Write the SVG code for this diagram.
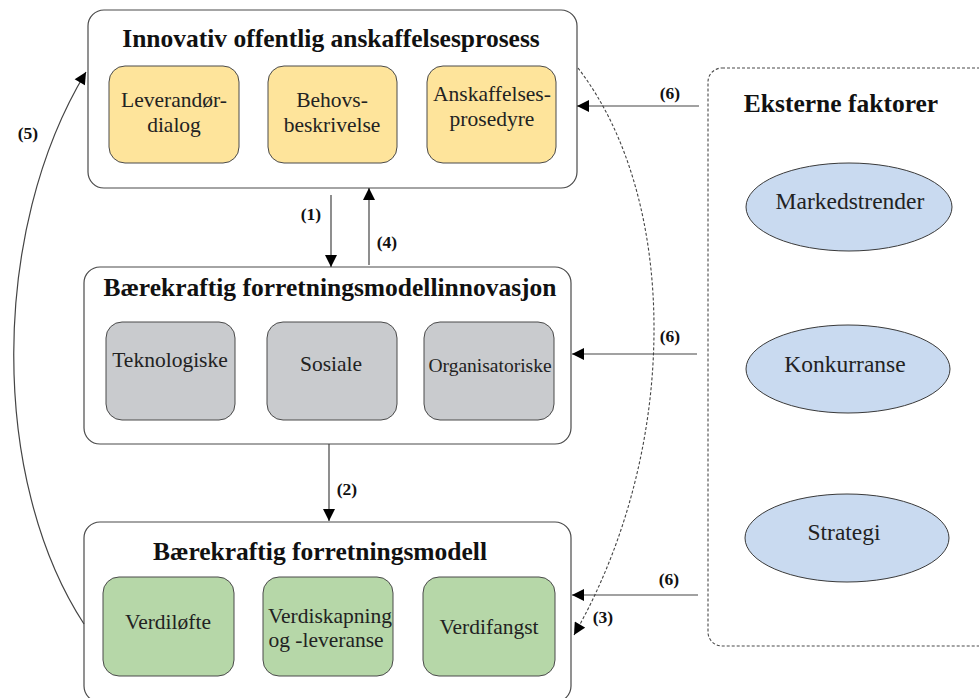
<svg xmlns="http://www.w3.org/2000/svg" width="979" height="698" viewBox="0 0 979 698">
  <style>
    .frame { fill: #ffffff; stroke: #4a4a4a; stroke-width: 1.2; }
    .ext { fill: none; stroke: #4a4a4a; stroke-width: 1.1; stroke-dasharray: 3 2; }
    .yellow { fill: #fee49b; stroke: #4a4a4a; stroke-width: 1; }
    .grey { fill: #c9cbce; stroke: #4a4a4a; stroke-width: 1; }
    .green { fill: #b6d7a8; stroke: #4a4a4a; stroke-width: 1; }
    .oval { fill: #c9daf0; stroke: #3a3a3a; stroke-width: 1; }
    .title { font-family: "Liberation Serif", "Times New Roman", serif; font-weight: bold; font-size: 25.5px; fill: #111111; text-anchor: middle; }
    .lbl { font-family: "Liberation Serif", "Times New Roman", serif; font-size: 21.5px; fill: #222222; text-anchor: middle; }
    .big { font-size: 23.5px; }
    .num { font-family: "Liberation Serif", "Times New Roman", serif; font-weight: bold; font-size: 17.5px; fill: #111111; text-anchor: middle; }
    .link { fill: none; stroke: #444444; stroke-width: 1.2; }
    .dash { fill: none; stroke: #444444; stroke-width: 1.1; stroke-dasharray: 3 2; }
  </style>
  <defs>
    <marker id="head" viewBox="0 0 10 10" refX="10" refY="5" markerWidth="13" markerHeight="12" markerUnits="userSpaceOnUse" orient="auto">
      <path d="M0,0 L10,5 L0,10 z" fill="#000000"/>
    </marker>
  </defs>

  <rect width="979" height="698" fill="#ffffff"/>

  <!-- Innovative public procurement process -->
  <g id="procurement">
    <rect class="frame" x="88" y="10" width="489" height="178" rx="16"/>
    <text class="title" x="331" y="47">Innovativ offentlig anskaffelsesprosess</text>
    <rect class="yellow" x="109" y="66" width="130" height="97" rx="16"/>
    <text class="lbl" x="174" y="107">Leverandør-</text>
    <text class="lbl" x="174" y="132">dialog</text>
    <rect class="yellow" x="268" y="66" width="129" height="97" rx="16"/>
    <text class="lbl" x="332" y="107">Behovs-</text>
    <text class="lbl" x="332" y="132">beskrivelse</text>
    <rect class="yellow" x="427" y="66" width="129" height="97" rx="16"/>
    <text class="lbl" x="492" y="101">Anskaffelses-</text>
    <text class="lbl" x="492" y="126">prosedyre</text>
  </g>

  <!-- Sustainable business model innovation -->
  <g id="innovation">
    <rect class="frame" x="84" y="267" width="487" height="177" rx="16"/>
    <text class="title" x="330" y="296">Bærekraftig forretningsmodellinnovasjon</text>
    <rect class="grey" x="106" y="322" width="129" height="98" rx="16"/>
    <text class="lbl" x="170" y="367">Teknologiske</text>
    <rect class="grey" x="267" y="322" width="130" height="98" rx="16"/>
    <text class="lbl" x="331" y="371">Sosiale</text>
    <rect class="grey" x="424" y="322" width="130" height="98" rx="16"/>
    <text class="lbl" x="490" y="372" style="font-size:19.5px">Organisatoriske</text>
  </g>

  <!-- Sustainable business model -->
  <g id="businessmodel">
    <rect class="frame" x="84" y="522" width="487" height="180" rx="16"/>
    <text class="title" x="320" y="560">Bærekraftig forretningsmodell</text>
    <rect class="green" x="103" y="577" width="131" height="99" rx="16"/>
    <text class="lbl" x="168" y="629">Verdiløfte</text>
    <rect class="green" x="263" y="577" width="130" height="99" rx="16"/>
    <text class="lbl" x="330" y="623">Verdiskapning</text>
    <text class="lbl" x="326" y="647">og -leveranse</text>
    <rect class="green" x="423" y="577" width="132" height="99" rx="16"/>
    <text class="lbl" x="489" y="634">Verdifangst</text>
  </g>

  <!-- External factors -->
  <g id="external">
    <rect class="ext" x="708" y="68" width="290" height="578" rx="14"/>
    <text class="title" x="841" y="112">Eksterne faktorer</text>
    <g id="markedstrender">
      <ellipse class="oval" cx="849" cy="207" rx="103" ry="44"/>
      <text class="lbl big" x="850" y="209">Markedstrender</text>
    </g>
    <g id="konkurranse">
      <ellipse class="oval" cx="848" cy="369" rx="102" ry="44"/>
      <text class="lbl big" x="845" y="372">Konkurranse</text>
    </g>
    <g id="strategi">
      <ellipse class="oval" cx="847" cy="538" rx="102" ry="44"/>
      <text class="lbl big" x="844" y="540">Strategi</text>
    </g>
  </g>

  <!-- Connectors -->
  <g id="connectors">
    <line class="link" x1="331" y1="195" x2="331" y2="267" marker-end="url(#head)"/>
    <text class="num" x="311" y="220">(1)</text>
    <line class="link" x1="369" y1="265" x2="369" y2="188" marker-end="url(#head)"/>
    <text class="num" x="387" y="248">(4)</text>
    <line class="link" x1="329" y1="444" x2="329" y2="521" marker-end="url(#head)"/>
    <text class="num" x="347" y="495">(2)</text>

    <line class="link" x1="699" y1="106" x2="577" y2="106" marker-end="url(#head)"/>
    <text class="num" x="670" y="99">(6)</text>
    <line class="link" x1="697" y1="354" x2="572" y2="354" marker-end="url(#head)"/>
    <text class="num" x="670" y="342">(6)</text>
    <line class="link" x1="698" y1="595" x2="572" y2="595" marker-end="url(#head)"/>
    <text class="num" x="669" y="585">(6)</text>

    <path class="link" d="M84,624 C -10,480 -10,230 86,72" marker-end="url(#head)"/>
    <text class="num" x="28" y="139">(5)</text>

    <path class="dash" d="M578,68 C 680,200 680,450 574,635" marker-end="url(#head)"/>
    <text class="num" x="603" y="623">(3)</text>
  </g>
</svg>
